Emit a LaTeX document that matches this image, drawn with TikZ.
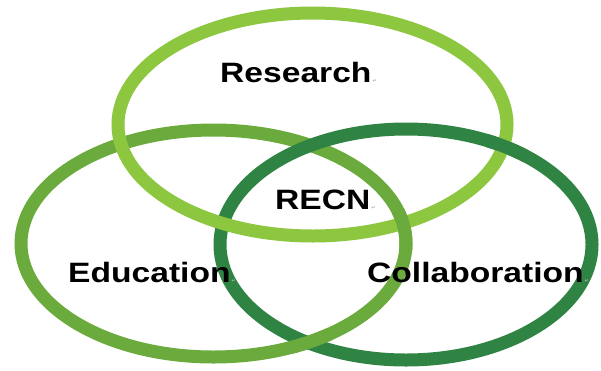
\documentclass[tikz,border=0pt]{standalone}
\usepackage{fontspec}
\setmainfont{Liberation Sans}
\newfontfamily\symfont{DejaVu Sans}
\definecolor{resgreen}{HTML}{8DC63F}
\definecolor{edugreen}{HTML}{6BAA3C}
\definecolor{colgreen}{HTML}{2F8444}
\definecolor{markgray}{HTML}{B0B0B0}
\newcommand{\retmark}{\hspace{1pt}{\symfont\fontsize{5}{5}\selectfont\color{markgray}↵}}
\tikzset{
  ring/.style={line width=13pt},
  ringR/.style={ring, draw=resgreen},
  ringE/.style={ring, draw=edugreen},
  ringC/.style={ring, draw=colgreen},
  label/.style={anchor=base west, inner sep=0pt, font=\bfseries\fontsize{28}{28}\selectfont, text=black}
}
\newcommand{\ellR}{(312.5,124.5) ellipse [x radius=194.5pt, y radius=111.5pt]}
\newcommand{\ellE}{(213.5,243.5) ellipse [x radius=192.5pt, y radius=113.5pt]}
\newcommand{\ellC}{(406,244.5) ellipse [x radius=186pt, y radius=115.5pt]}
\begin{document}
\begin{tikzpicture}[x=1pt,y=-1pt]
\fill[white] (0,0) rectangle (601,370);
\useasboundingbox (0,0) rectangle (601,370);
% base order
\draw[ringE] \ellE;
\draw[ringC] \ellC;
\draw[ringR] \ellR;
% over-crossings
\begin{scope}
  \clip (406,230) circle [radius=22pt];
  \draw[ringE] \ellE;
\end{scope}
\begin{scope}
  \clip (507,146) circle [radius=22pt];
  \draw[ringC] \ellC;
\end{scope}
\begin{scope}
  \clip (310,342) circle [radius=22pt];
  \draw[ringE] \ellE;
\end{scope}
% labels
\node[label] (research) at (220,82) {\scalebox{1.2}[1]{Research}\retmark};
\node[label] (recn) at (275,209) {\scalebox{1.2}[1]{RECN}\retmark};
\node[label] (education) at (68,282) {\scalebox{1.2}[1]{Education}\retmark};
\node[label] (collab) at (367,282) {\scalebox{1.2}[1]{Collaboration}\retmark};
\end{tikzpicture}
\end{document}
